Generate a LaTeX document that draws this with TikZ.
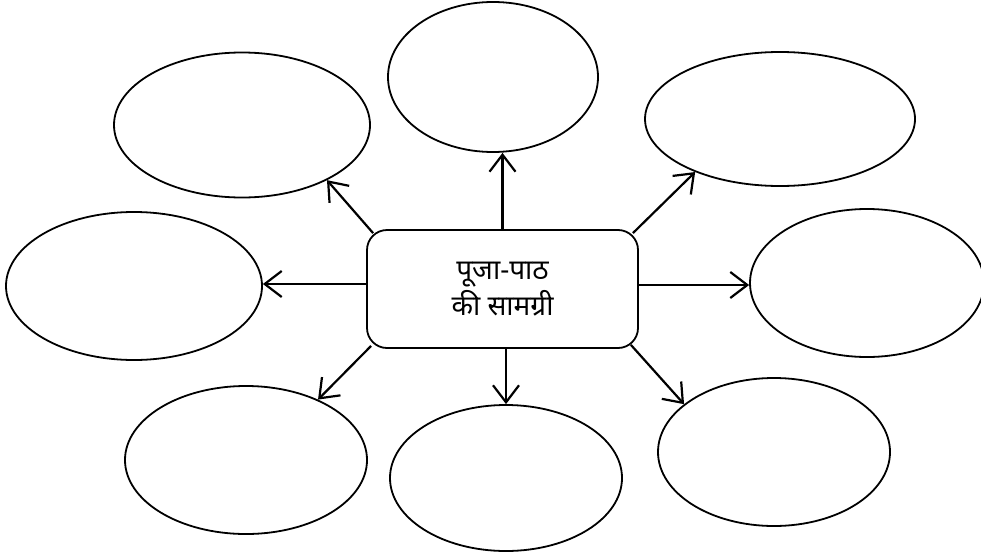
\documentclass[tikz,border=0pt]{standalone}
\usepackage{fontspec}
\newfontfamily\devfont[Script=Devanagari]{Noto Sans}
\usetikzlibrary{shapes.geometric,arrows.meta}
\begin{document}
\begin{tikzpicture}[x=1pt,y=-1pt,
  bubble/.style={draw,line width=1.8pt,ellipse,inner sep=0pt},
  hub/.style={draw,line width=1.8pt,rounded corners=20pt,inner sep=0pt,align=center,
    font=\devfont\fontsize{28}{36}\selectfont},
  link/.style={line width=2.2pt,-{Straight Barb[length=17pt,width=26pt,line width=2.2pt]}}]
\useasboundingbox (0,0) rectangle (981,554);
\node[hub,minimum width=271pt,minimum height=118pt] (box) at (502.5,289) {पूजा-पाठ\\की सामग्री};
\node[bubble,minimum width=256pt,minimum height=145pt] (tl) at (242,125) {};
\node[bubble,minimum width=210pt,minimum height=150pt] (tc) at (493,77) {};
\node[bubble,minimum width=270pt,minimum height=134pt] (tr) at (780,119) {};
\node[bubble,minimum width=256pt,minimum height=148pt] (lf) at (134,286) {};
\node[bubble,minimum width=234pt,minimum height=148pt] (rt) at (867,283) {};
\node[bubble,minimum width=242pt,minimum height=148pt] (bl) at (246,460) {};
\node[bubble,minimum width=232pt,minimum height=146pt] (bc) at (506,478) {};
\node[bubble,minimum width=232pt,minimum height=148pt] (br) at (774,452) {};
\draw[link] (box.north) -- (box.north |- tc.south);
\draw[link] (bc.north |- box.south) -- (bc.north);
\draw[link] ([yshift=5pt]box.west) -- ([yshift=5pt]box.west -| lf.east);
\draw[link] ([yshift=4pt]box.east) -- ([yshift=4pt]box.east -| rt.west);
\draw[link] ([shift={(7pt,-4pt)}]box.north west) -- (tl.-33.4);
\draw[link] ([shift={(-6pt,-4pt)}]box.north east) -- (tr.212.6);
\draw[link] ([shift={(5pt,3pt)}]box.south west) -- (bl.40.3);
\draw[link] ([shift={(-8pt,4pt)}]box.south east) -- (br.152.9);
\end{tikzpicture}
\end{document}
